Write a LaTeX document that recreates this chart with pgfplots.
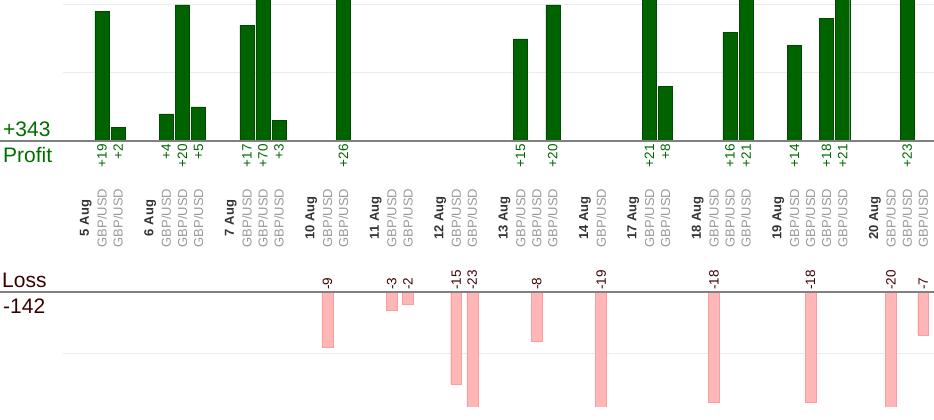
\documentclass[border=0pt]{standalone}
\usepackage{pgfplots}
\pgfplotsset{compat=1.18}
\usepackage{pgfplotstable}
\usepackage{fontspec}
\setmainfont{Liberation Sans}
\definecolor{pgreen}{HTML}{006600}
\definecolor{pgreenF}{HTML}{006300}
\definecolor{pgreenD}{HTML}{004A00}
\definecolor{tgreen}{HTML}{006E00}
\definecolor{lossc}{HTML}{3A0000}
\definecolor{pinkF}{HTML}{FFB6B6}
\definecolor{pinkD}{HTML}{FF9C9C}
\definecolor{gridc}{HTML}{EBEBEB}
\definecolor{basec}{HTML}{808080}
\definecolor{catg}{HTML}{999999}
\definecolor{datec}{HTML}{333333}

\pgfplotstableread{
x y
1 19
2 2
5 4
6 20
7 5
10 17
11 70
12 3
16 26
27 15
29 20
35 21
36 8
40 16
41 21
44 14
46 18
47 21
51 23
}\profit

\pgfplotstableread{
x y
15 -9
19 -3
20 -2
23 -15
24 -23
28 -8
32 -19
39 -18
45 -18
50 -20
52 -7
}\loss

\newcommand{\dl}[1]{\textcolor{datec}{\bfseries #1}}
\newcommand{\gu}{\textcolor{catg}{GBP/USD}}

\begin{document}
\begin{tikzpicture}[x=1pt,y=1pt]
\useasboundingbox (0,0) rectangle (934,420);
\pgfplotsset{
  common/.style={
    scale only axis, width=934pt,
    xmin=-5.33, xmax=52.67,
    axis line style={draw=none}, tick style={draw=none},
    ytick=\empty,
    anchor=south west,
  }
}
% ---------- Profit ----------
\begin{axis}[common, at={(0pt,279pt)}, height=141pt,
  ymin=0, ymax=20.7, clip=false,
  xtick={0,1,2,4,5,6,7,9,10,11,12,14,15,16,18,19,20,22,23,24,26,27,28,29,31,32,34,35,36,38,39,40,41,43,44,45,46,47,49,50,51,52},
  xticklabels={\dl{5 Aug},\gu,\gu,
    \dl{6 Aug},\gu,\gu,\gu,
    \dl{7 Aug},\gu,\gu,\gu,
    \dl{10 Aug},\gu,\gu,
    \dl{11 Aug},\gu,\gu,
    \dl{12 Aug},\gu,\gu,
    \dl{13 Aug},\gu,\gu,\gu,
    \dl{14 Aug},\gu,
    \dl{17 Aug},\gu,\gu,
    \dl{18 Aug},\gu,\gu,\gu,
    \dl{19 Aug},\gu,\gu,\gu,\gu,
    \dl{20 Aug},\gu,\gu,\gu},
  xticklabel style={yshift=-77pt, rotate=90, anchor=center, inner sep=0pt,
    font=\fontsize{13}{13}\selectfont},
]
\draw[gridc, line width=1pt] (axis cs:-1.42,10) -- (axis cs:52.67,10);
\draw[gridc, line width=1pt] (axis cs:-1.42,20) -- (axis cs:52.67,20);
\addplot[ybar, bar width=0.87, fill=pgreenF, draw=pgreenD] table[x=x, y=y] {\profit};
\addplot[draw=none, mark=none, nodes near coords={+\pgfplotspointmeta},
  point meta=explicit symbolic,
  nodes near coords style={yshift=-3pt, rotate=90, anchor=east, inner sep=0pt,
    text=pgreen, font=\fontsize{13.5}{13.5}\selectfont}]
  table[x=x, y expr=0, meta=y] {\profit};
\draw[basec, line width=1.4pt] (rel axis cs:-0.01,0) -- (rel axis cs:1.01,0);
\end{axis}
% ---------- Loss ----------
\begin{axis}[common, at={(0pt,13pt)}, height=115pt,
  ymin=-18.8, ymax=0, xtick=\empty,
]
\draw[gridc, line width=1pt] (axis cs:-1.42,-10) -- (axis cs:52.67,-10);
\addplot[ybar, bar width=0.68, fill=pinkF, draw=pinkD] table[x=x, y=y] {\loss};
\addplot[draw=none, mark=none, nodes near coords={\pgfplotspointmeta},
  point meta=explicit symbolic,
  nodes near coords style={yshift=2pt, rotate=90, anchor=west, inner sep=0pt,
    text=lossc, font=\fontsize{13.5}{13.5}\selectfont}]
  table[x=x, y expr=0, meta=y] {\loss};
\end{axis}
\draw[basec, line width=1.4pt] (0,128) -- (934,128);
% left captions
\node[anchor=base west, inner sep=0pt, text=tgreen, font=\fontsize{21}{21}\selectfont] at (3,283) {+343};
\node[anchor=base west, inner sep=0pt, text=tgreen, font=\fontsize{21}{21}\selectfont] at (3,257) {Profit};
\node[anchor=base west, inner sep=0pt, text=lossc, font=\fontsize{21}{21}\selectfont] at (2,132) {Loss};
\node[anchor=base west, inner sep=0pt, text=lossc, font=\fontsize{21}{21}\selectfont] at (3,106) {-142};
\end{tikzpicture}
\end{document}
